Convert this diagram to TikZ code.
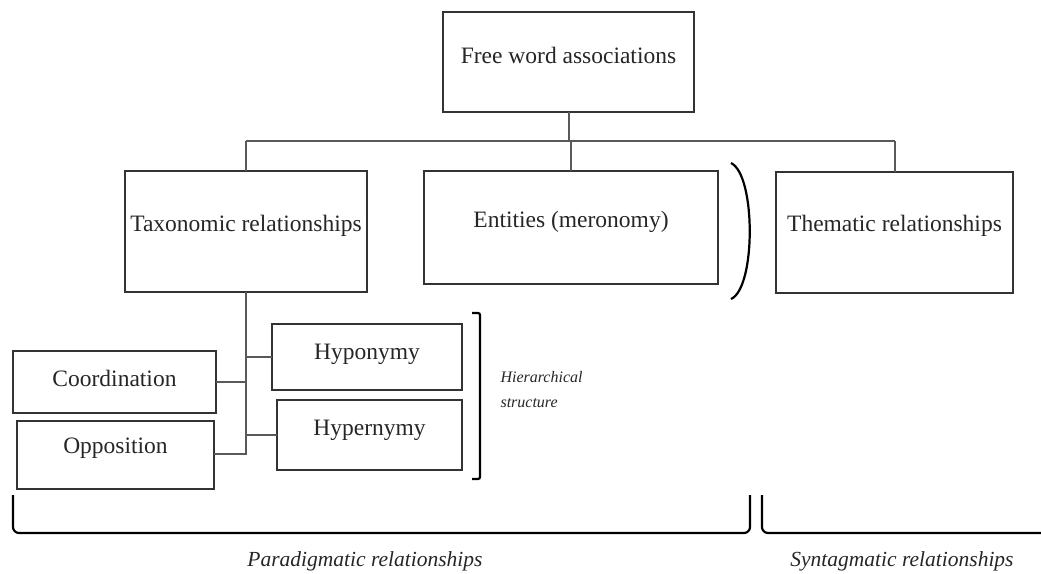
\documentclass[tikz,border=0pt]{standalone}
\usepackage{fontspec}
\setmainfont{Liberation Serif}
\begin{document}
\begin{tikzpicture}[x=1pt,y=-1pt,
  box/.style={draw=black!80,line width=1.3pt,fill=white},
  lbl/.style={font=\fontsize{23.5}{26}\selectfont,text=black!85},
  ital/.style={font=\itshape\fontsize{21.5}{24}\selectfont,text=black!85},
  small/.style={font=\itshape\fontsize{16}{25}\selectfont,text=black!85,align=left},
  link/.style={draw=black!65,line width=1.1pt},
  brace/.style={draw=black,line width=2.2pt}]
\useasboundingbox (0,0) rectangle (1041,573);

% boxes
\draw[box] (443,12) rectangle (694,112);
\node[lbl] (free) at (568.5,55) {Free word associations};
\draw[box] (125,171) rectangle (367,292);
\node[lbl] (tax) at (246,226) {Taxonomic relationships};
\draw[box] (424,171) rectangle (718,284);
\node[lbl] (ent) at (571,222) {Entities (meronomy)};
\draw[box] (776,172) rectangle (1013,293);
\node[lbl] (them) at (894.5,226) {Thematic relationships};

\draw[box] (272,324) rectangle (462,390);
\node[lbl] (hypo) at (367,354) {Hyponymy};
\draw[box] (277,400) rectangle (462,470);
\node[lbl] (hyper) at (369.5,430) {Hypernymy};
\draw[box] (13,351) rectangle (216,413);
\node[lbl] (coord) at (114.5,378) {Coordination};
\draw[box] (17,421) rectangle (214,489);
\node[lbl] (opp) at (115.5,448) {Opposition};

% connectors
\coordinate (top) at (569,112);
\coordinate (bus) at (569,141);
\draw[link] (top) -- (bus);
\draw[link] (246,141) -- (895,141);
\draw[link] (246,141) -- (246,171);
\draw[link] (571,141) -- (571,171);
\draw[link] (895,141) -- (895,172);
\draw[link] (246,292) -- (246,455);
\draw[link] (246,357) -- (272,357);
\draw[link] (246,435) -- (277,435);
\draw[link] (216,382) -- (246,382);
\draw[link] (214,454) -- (246,454);

% round bracket
\draw[brace] (731,163) .. controls (756,175) and (756,288) .. (731,299);
% square bracket
\draw[brace,rounded corners=2pt] (472,313) -- (480,313) -- (480,479) -- (472,479);
\node[small,anchor=west] (hier) at (497,390) {Hierarchical\\structure};

% bottom brackets
\draw[brace,rounded corners=6pt] (13,495) -- (13,533) -- (750,533) -- (750,495);
\draw[brace,rounded corners=6pt] (762,495) -- (762,533) -- (1045,533);
\node[ital] (para) at (365,561) {Paradigmatic relationships};
\node[ital] (synt) at (902,561) {Syntagmatic relationships};
\end{tikzpicture}
\end{document}
